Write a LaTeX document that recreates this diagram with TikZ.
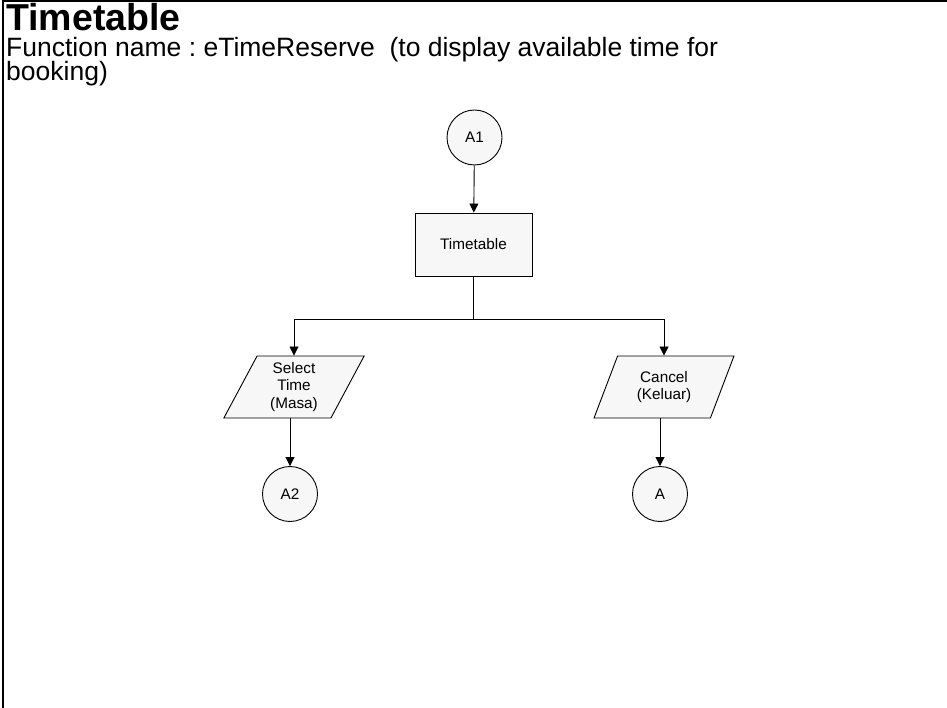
\documentclass[tikz,border=0pt]{standalone}
\usepackage{fontspec}
\setmainfont{Liberation Sans}
\usetikzlibrary{arrows.meta, positioning, calc, shapes.geometric}
\definecolor{ShapeFill}{rgb}{0.97, 0.97, 0.97}
\def\fs{15.3}
\lineskiplimit=-100pt

\begin{document}
\frenchspacing
\begin{tikzpicture}[x=1pt, y=-1pt,
    flecha/.style={-{Triangle[length=9pt, width=9pt]}, line width=0.9pt},
    conector/.style={circle, draw, line width=0.9pt, fill=ShapeFill, minimum size=55pt, inner sep=0pt,
        font=\fontsize{\fs}{18}\selectfont},
    proceso/.style={rectangle, draw, line width=0.9pt, fill=ShapeFill, minimum width=117pt, minimum height=63pt,
        font=\fontsize{\fs}{18}\selectfont},
    entrada/.style={trapezium, trapezium left angle=66.5, trapezium right angle=113.5, trapezium stretches=true,
        draw, line width=0.9pt, fill=ShapeFill, minimum width=141pt, minimum height=62pt, inner sep=0pt,
        align=center, font=\fontsize{\fs}{17.5}\selectfont}]

\useasboundingbox (0,0) rectangle (947,708);

% marco
\draw[line width=2pt] (3,708) -- (3,1) -- (947,1);

% titulo
\node[anchor=base west, inner sep=0pt, font=\bfseries\fontsize{37.5}{40}\selectfont] (titulo) at (6,30.5) {Timetable};
\node[anchor=base west, inner sep=0pt, align=left, font=\fontsize{26.5}{24}\selectfont] (funcion) at (6,81)
    {Function name : eTimeReserve\ \ (to display available time for\\booking)};

% nodos
\node[conector] (a1) at (474.5,137.5) {A1};
\node[proceso] (tabla) at (473.5,244.5) {Timetable};
\node[entrada] (masa) at (294,387) {Select\\Time\\(Masa)};
\node[entrada] (keluar) at (664,387) {Cancel\\(Keluar)};
\node[conector] (a2) at (290,494) {A2};
\node[conector] (a) at (660,494) {A};

% flechas
\draw[flecha] (a1) -- (tabla);
\draw[line width=0.9pt] (tabla.south) -- ++(0,43) coordinate (rama);
\draw[flecha] (rama) -| (masa);
\draw[flecha] (rama) -| (keluar);
\draw[flecha] (a2 |- masa.south) -- (a2);
\draw[flecha] (a |- keluar.south) -- (a);

\end{tikzpicture}
\end{document}
